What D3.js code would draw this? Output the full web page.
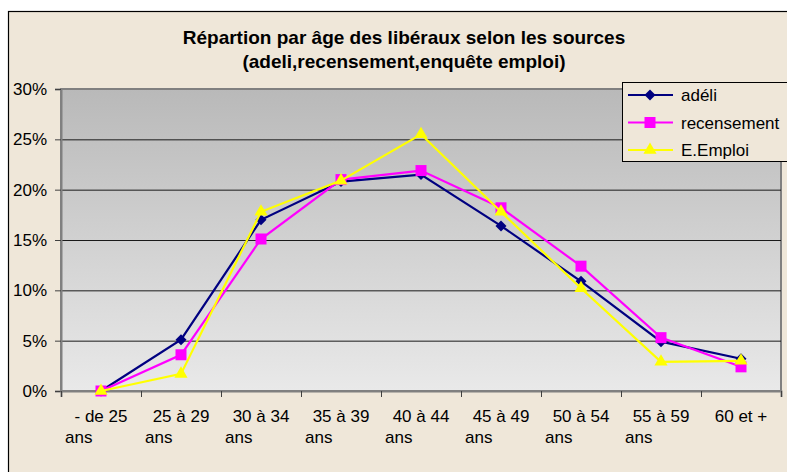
<!DOCTYPE html>
<html>
<head>
<meta charset="utf-8">
<script src="https://cdn.jsdelivr.net/npm/d3@7"></script>
<style>
  body { margin: 0; background: #fff; }
  text { font-family: "Liberation Sans", Arial, sans-serif; }
</style>
</head>
<body>
<script>
var categories = ["- de 25 ans", "25 à 29 ans", "30 à 34 ans", "35 à 39 ans", "40 à 44 ans",
                  "45 à 49 ans", "50 à 54 ans", "55 à 59 ans", "60 et +"];
var adeli       = [0, 5.1, 17.0, 20.8, 21.5, 16.4, 10.9, 4.9, 3.2];
var recensement = [0, 3.6, 15.1, 21.0, 21.9, 18.2, 12.4, 5.3, 2.4];
var emploi      = [0, 1.7, 17.8, 20.9, 25.5, 17.8, 10.2, 2.9, 3.0];
var seriesNames = ["adéli", "recensement", "E.Emploi"];
var yTicks = [0, 5, 10, 15, 20, 25, 30];

var width = 787, height = 472;
var plotLeft = 61, plotRight = 781, plotTop = 89, plotBottom = 391;

var svg = d3.select("body").append("svg")
    .attr("width", width)
    .attr("height", height);

// chart background
svg.append("rect")
    .attr("x", 8.5).attr("y", 11.5)
    .attr("width", width).attr("height", height)
    .attr("fill", "#efe7d9")
    .attr("stroke", "#000").attr("stroke-width", 1.2);

var grad = svg.append("defs").append("linearGradient")
    .attr("id", "plotbg").attr("x1", 0).attr("y1", 0).attr("x2", 0).attr("y2", 1);
grad.append("stop").attr("offset", "0%").attr("stop-color", "#b9b9b9");
grad.append("stop").attr("offset", "100%").attr("stop-color", "#e9e9e9");

svg.append("rect")
    .attr("x", plotLeft).attr("y", plotTop)
    .attr("width", plotRight - plotLeft).attr("height", plotBottom - plotTop)
    .attr("fill", "url(#plotbg)")
    .attr("stroke", "#808080").attr("stroke-width", 2);

var x = d3.scaleBand().domain(categories).range([plotLeft, plotRight]);
var xEdge = d3.scaleLinear().domain([0, categories.length]).range([plotLeft, plotRight]);
var y = d3.scaleLinear().domain([0, 30]).range([plotBottom, plotTop]);

// gridlines
svg.append("g")
    .attr("transform", "translate(" + plotLeft + ",0)")
    .call(d3.axisLeft(y).tickValues(yTicks.slice(1, -1)).tickSize(-(plotRight - plotLeft)).tickFormat(""))
    .call(function(g) {
        g.select(".domain").remove();
        g.selectAll("line").attr("stroke", "#1a1a1a").attr("stroke-width", 1);
    });

// y axis
svg.append("g")
    .attr("transform", "translate(" + plotLeft + ",0)")
    .call(d3.axisLeft(y).tickValues(yTicks).tickSize(6).tickPadding(8).tickFormat(function(d) { return d + "%"; }))
    .call(function(g) {
        g.select(".domain").attr("stroke", "#808080").attr("stroke-width", 2);
        g.selectAll("line").attr("stroke", "#404040");
        g.selectAll("text").attr("font-size", 17).attr("fill", "#000")
            .attr("font-family", "Liberation Sans, Arial, sans-serif");
    });

// x axis
svg.append("g")
    .attr("transform", "translate(0," + plotBottom + ")")
    .call(d3.axisBottom(xEdge).tickValues(d3.range(categories.length + 1)).tickSize(6).tickFormat(""))
    .call(function(g) {
        g.select(".domain").attr("stroke", "#808080").attr("stroke-width", 2);
        g.selectAll("line").attr("stroke", "#404040");
    });

var xl = svg.append("g").attr("font-size", 17).attr("fill", "#000");
categories.forEach(function(c) {
    var cx = x(c) + x.bandwidth() / 2;
    var lines = / ans$/.test(c) ? [c.slice(0, -4), "ans"] : [c];
    xl.append("text").attr("x", cx).attr("y", 422).attr("text-anchor", "middle").text(lines[0]);
    if (lines[1]) xl.append("text").attr("x", cx - 36).attr("y", 443).text(lines[1]);
});

// markers
function diamond(r) { return "M0," + (-r) + "L" + r + ",0L0," + r + "L" + (-r) + ",0Z"; }
var series = [
    { name: seriesNames[0], values: adeli, color: "#000080", marker: diamond(5.5) },
    { name: seriesNames[1], values: recensement, color: "#ff00ff", marker: d3.symbol(d3.symbolSquare, 121)() },
    { name: seriesNames[2], values: emploi, color: "#ffff00", marker: d3.symbol(d3.symbolTriangle, 75)() }
];

var line = d3.line()
    .x(function(d, i) { return x(categories[i]) + x.bandwidth() / 2; })
    .y(function(d) { return y(d); });

series.forEach(function(s) {
    var g = svg.append("g");
    g.append("path")
        .attr("d", line(s.values))
        .attr("fill", "none")
        .attr("stroke", s.color)
        .attr("stroke-width", 2.2);
    g.selectAll("path.m")
        .data(s.values)
        .enter().append("path")
        .attr("class", "m")
        .attr("d", s.marker)
        .attr("fill", s.color)
        .attr("transform", function(d, i) {
            return "translate(" + (x(categories[i]) + x.bandwidth() / 2) + "," + y(d) + ")";
        });
});

// title
svg.append("text")
    .attr("x", 404).attr("y", 44)
    .attr("text-anchor", "middle").attr("font-size", 19).attr("font-weight", "bold")
    .text("Répartion par âge des libéraux selon les sources");
svg.append("text")
    .attr("x", 404).attr("y", 68)
    .attr("text-anchor", "middle").attr("font-size", 19).attr("font-weight", "bold")
    .text("(adeli,recensement,enquête emploi)");

// legend
var lg = svg.append("g");
lg.append("rect")
    .attr("x", 622.5).attr("y", 82.5)
    .attr("width", 170).attr("height", 79)
    .attr("fill", "#efe7d9").attr("stroke", "#000").attr("stroke-width", 1);
series.forEach(function(s, i) {
    var ly = 95 + i * 27.5;
    lg.append("line").attr("x1", 628).attr("x2", 673).attr("y1", ly).attr("y2", ly)
        .attr("stroke", s.color).attr("stroke-width", 2.2);
    lg.append("path").attr("d", s.marker).attr("fill", s.color)
        .attr("transform", "translate(650," + ly + ")");
    lg.append("text").attr("x", 681).attr("y", ly + 6).attr("font-size", 17).text(s.name);
});
</script>
</body>
</html>
